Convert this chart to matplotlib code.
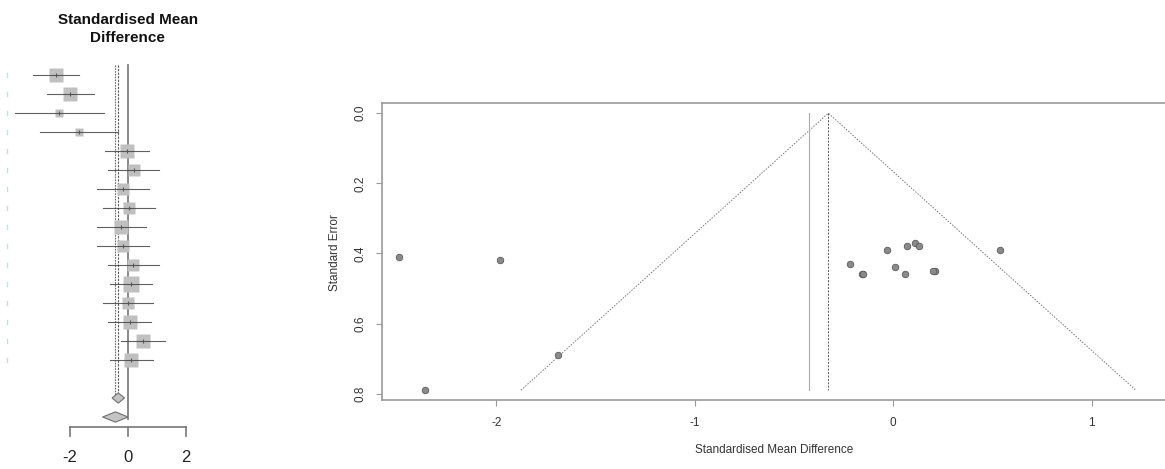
import numpy as np
import matplotlib
matplotlib.use("Agg")
import matplotlib.pyplot as plt
from matplotlib.patches import Polygon

plt.rcParams['font.family'] = ['Liberation Sans', 'DejaVu Sans']

# --- Study-level data (standardised mean difference and its standard error) ---
smd = [-2.49, -1.98, -2.36, -1.69, -0.03, 0.21, -0.16, 0.06,
       -0.22, -0.15, 0.20, 0.11, 0.01, 0.07, 0.54, 0.13]
se = [0.41, 0.42, 0.79, 0.69, 0.39, 0.45, 0.46, 0.46,
      0.43, 0.46, 0.45, 0.37, 0.44, 0.38, 0.39, 0.38]

# --- Pooled estimates ---
common_est, common_ci = -0.327, (-0.54, -0.11)
random_est, random_ci = -0.423, (-0.87, 0.01)

forest_ticks = [-2, 0, 2]
funnel_xticks = [-2, -1, 0, 1]
funnel_yticks = [0.0, 0.2, 0.4, 0.6, 0.8]

smd = np.array(smd)
se = np.array(se)
lo = smd - 1.96 * se
hi = smd + 1.96 * se
rows = np.arange(1, len(smd) + 1)

fig = plt.figure(figsize=(11.65, 4.69), dpi=100, facecolor='white')

# ---------------- Forest plot (left) ----------------
px_unit = 28.9   # pixels per SMD unit
row_px = 19.0    # pixels per row
axf = fig.add_axes([0, 0, 220 / 1165, 1])
axf.set_xlim(-127.7 / px_unit, (220 - 127.7) / px_unit)
axf.set_ylim((469 - 75) / row_px + 1, -75 / row_px + 1)
axf.axis('off')

# faint row markers at the panel edge
for r in rows:
    axf.plot([-4.16, -4.16], [r - 0.13, r + 0.13], color='#c2dde6', lw=1.0)

# reference lines
axf.plot([0, 0], [0.47, 19.1], color='#808080', lw=1.3, zorder=1)
axf.plot([common_est] * 2, [0.47, 17.9], color='#555555', lw=0.8,
         ls=(0, (2, 1.2)), zorder=1)
axf.plot([random_est] * 2, [0.47, 17.9], color='#666666', lw=0.8,
         ls=(0, (1.5, 1)), zorder=1)

# weighted squares with confidence intervals drawn across them
for r, est, l, h, s in zip(rows, smd, lo, hi, se):
    side_pt = 4.1 / s
    axf.plot(est, r, marker='s', ms=side_pt, color='#c0c0c0', mec='none', zorder=2)
    axf.plot([l, h], [r, r], color='#444444', lw=0.8, alpha=0.85, zorder=3)
    axf.plot(est, r, marker='|', ms=3, mew=0.8, color='#555555', zorder=4)

# pooled diamonds
for r, est, (l, h) in [(18, common_est, common_ci), (19, random_est, random_ci)]:
    dh = 0.27
    axf.add_patch(Polygon([(l, r), (est, r - dh), (h, r), (est, r + dh)],
                          closed=True, facecolor='#c4c4c4', edgecolor='#6f6f6f',
                          lw=0.8, zorder=5))

# axis
y_axis = (426.7 - 75) / row_px + 1
axf.plot([forest_ticks[0], forest_ticks[-1]], [y_axis, y_axis], color='#777777', lw=1.2)
for t in forest_ticks:
    axf.plot([t, t], [y_axis, y_axis + 0.5], color='#777777', lw=1.2)
    axf.text(t, (457 - 75) / row_px + 1, f"{t}", ha='center', va='center',
             fontsize=12, color='#222222')

axf.text(0, (20 - 75) / row_px + 1, "Standardised Mean", ha='center', va='center',
         fontsize=11, fontweight='bold', color='#111111')
axf.text(0, (38 - 75) / row_px + 1, "Difference", ha='center', va='center',
         fontsize=11, fontweight='bold', color='#111111')

# ---------------- Funnel plot (right) ----------------
ax = fig.add_axes([381.7 / 1165, (469 - 400) / 469,
                   (1170 - 381.7) / 1165, (400 - 102.7) / 469])
ax.set_xlim(-2.577, 1.394)
ax.set_ylim(0.818, -0.030)

se_max = se.max()
ax.plot([common_est - 1.96 * se_max, common_est, common_est + 1.96 * se_max],
        [se_max, 0, se_max], color='#777777', lw=0.7, ls=(0, (1.5, 1.5)))
ax.plot([random_est, random_est], [0, se_max], color='#aaaaaa', lw=0.8)
ax.plot([common_est, common_est], [0, se_max], color='#555555', lw=0.7, ls=(0, (2, 1.5)))

ax.scatter(smd, se, s=22, color='#8a8a8a', edgecolors='#5a5a5a', linewidths=0.6, zorder=3)

for side in ['top', 'bottom', 'left', 'right']:
    ax.spines[side].set_color('#999999')
    ax.spines[side].set_linewidth(1.2)

ax.set_xticks(funnel_xticks)
ax.set_xticklabels([f"{t}" for t in funnel_xticks])
ax.set_yticks(funnel_yticks)
ax.set_yticklabels([f"{t:.1f}" for t in funnel_yticks], rotation=90, va='center')
ax.tick_params(axis='both', direction='out', length=4, width=0.8, color='#999999',
               labelsize=8.5, labelcolor='#333333')
ax.tick_params(axis='x', pad=8)
ax.tick_params(axis='y', pad=7)

fig.text(774 / 1165, 1 - 450 / 469, "Standardised Mean Difference", ha='center',
         va='center', fontsize=8.5, color='#333333')
fig.text(335 / 1165, 1 - 252.5 / 469, "Standard Error", ha='center', va='center',
         rotation=90, fontsize=8.5, color='#333333')

fig.savefig("out.png", dpi=100, facecolor='white')
